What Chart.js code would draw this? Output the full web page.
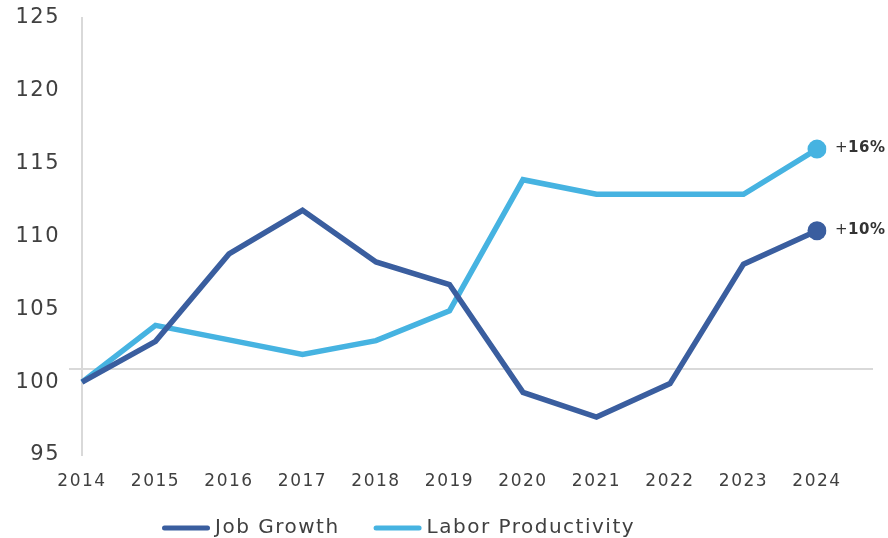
<!DOCTYPE html>
<html>
<head>
<meta charset="utf-8">
<script src="https://cdn.jsdelivr.net/npm/chart.js@4.4.1/dist/chart.umd.min.js"></script>
<style>
  html, body { margin: 0; padding: 0; background: #ffffff; }
  #wrap { width: 888px; height: 538px; position: relative; }
</style>
</head>
<body>
<div id="wrap"><canvas id="c"></canvas></div>
<script>
// ---- data ----
const years = ['2014','2015','2016','2017','2018','2019','2020','2021','2022','2023','2024'];
const jobGrowth = [100, 102.8, 108.8, 111.8, 108.25, 106.7, 99.3, 97.6, 99.9, 108.1, 110.4];
const laborProductivity = [100, 103.9, 102.9, 101.9, 102.85, 104.9, 113.9, 112.9, 112.9, 112.9, 116.0];
const endLabels = { 'Job Growth': '+10%', 'Labor Productivity': '+16%' };
const yTicks = [95, 100, 105, 110, 115, 120, 125];
const refLineValue = 100.9;

const DARK = '#3A5E9F';
const LIGHT = '#46B3E1';
const GRID = '#d9d9d9';
const TEXT = '#404040';
const FONT = '"DejaVu Sans", sans-serif';

function setSpacing(chart) {
  try { chart.ctx.letterSpacing = '1.5px'; } catch (e) {}
}

const spacingPlugin = {
  id: 'spacing',
  beforeLayout: setSpacing,
  beforeDraw: setSpacing,
  beforeUpdate: setSpacing
};

const refLinePlugin = {
  id: 'refLine',
  beforeDatasetsDraw(chart) {
    const { ctx, chartArea, scales } = chart;
    const y = scales.y.getPixelForValue(refLineValue);
    ctx.save();
    ctx.strokeStyle = GRID;
    ctx.lineWidth = 2;
    ctx.beginPath();
    ctx.moveTo(chartArea.left - 13, y);
    ctx.lineTo(chartArea.right + 56, y);
    ctx.stroke();
    ctx.restore();
  }
};

const endLabelPlugin = {
  id: 'endLabels',
  afterDatasetsDraw(chart) {
    const { ctx } = chart;
    ctx.save();
    chart.data.datasets.forEach((ds, i) => {
      const meta = chart.getDatasetMeta(i);
      const pt = meta.data[meta.data.length - 1];
      const txt = endLabels[ds.label];
      ctx.textBaseline = 'middle';
      ctx.textAlign = 'left';
      ctx.fillStyle = '#333333';
      try { ctx.letterSpacing = '0.5px'; } catch (e) {}
      ctx.font = '15px ' + FONT;
      const plus = txt.slice(0, 1);
      const rest = txt.slice(1);
      const x0 = pt.x + 18;
      ctx.fillText(plus, x0, pt.y - 1);
      const pw = ctx.measureText(plus).width;
      ctx.font = 'bold 15px ' + FONT;
      ctx.fillText(rest, x0 + pw, pt.y - 1);
    });
    ctx.restore();
  }
};

const legendPlugin = {
  id: 'customLegend',
  afterDraw(chart) {
    const { ctx } = chart;
    ctx.save();
    try { ctx.letterSpacing = '1.5px'; } catch (e) {}
    ctx.font = '20px ' + FONT;
    ctx.textBaseline = 'middle';
    ctx.textAlign = 'left';
    let x = 162;
    const y = 528;
    chart.data.datasets.forEach((ds) => {
      ctx.strokeStyle = ds.borderColor;
      ctx.lineWidth = 5;
      ctx.lineCap = 'round';
      ctx.beginPath();
      ctx.moveTo(x + 2.5, y);
      ctx.lineTo(x + 45.5, y);
      ctx.stroke();
      ctx.fillStyle = TEXT;
      ctx.fillText(ds.label, x + 53, y);
      const w = ctx.measureText(ds.label).width;
      x = x + 53 + w + 34;
    });
    ctx.restore();
  }
};

const lastRadius = (c) => (c.dataIndex === c.dataset.data.length - 1 ? 9.5 : 0);

new Chart(document.getElementById('c'), {
  type: 'line',
  data: {
    labels: years,
    datasets: [
      {
        label: 'Job Growth',
        data: jobGrowth,
        borderColor: DARK,
        backgroundColor: DARK,
        borderWidth: 5.5,
        tension: 0,
        pointRadius: lastRadius,
        pointHoverRadius: lastRadius,
        pointBorderWidth: 0,
        pointBackgroundColor: DARK
      },
      {
        label: 'Labor Productivity',
        data: laborProductivity,
        borderColor: LIGHT,
        backgroundColor: LIGHT,
        borderWidth: 5.5,
        tension: 0,
        pointRadius: lastRadius,
        pointHoverRadius: lastRadius,
        pointBorderWidth: 0,
        pointBackgroundColor: LIGHT
      }
    ]
  },
  options: {
    responsive: true,
    maintainAspectRatio: false,
    animation: false,
    layout: { padding: { top: 18, right: 71, bottom: 0, left: 0 } },
    plugins: {
      legend: { display: false },
      tooltip: { enabled: false }
    },
    scales: {
      x: {
        offset: false,
        grid: { display: false, drawTicks: false },
        border: { display: false },
        ticks: {
          color: TEXT,
          font: { family: FONT, size: 17 },
          padding: 16,
          maxRotation: 0,
          autoSkip: false
        },
        afterFit(scale) { scale.height = 83; }
      },
      y: {
        min: 95,
        max: 125,
        afterBuildTicks(scale) { scale.ticks = yTicks.map(v => ({ value: v })); },
        grid: { display: false, drawTicks: false },
        border: { display: true, color: GRID, width: 2 },
        ticks: {
          color: TEXT,
          font: { family: FONT, size: 21 },
          padding: 22
        },
        afterFit(scale) {
          scale.width = 82;
          scale.paddingTop = 0;
          scale.paddingBottom = 0;
        }
      }
    }
  },
  plugins: [spacingPlugin, refLinePlugin, endLabelPlugin, legendPlugin]
});
</script>
</body>
</html>
